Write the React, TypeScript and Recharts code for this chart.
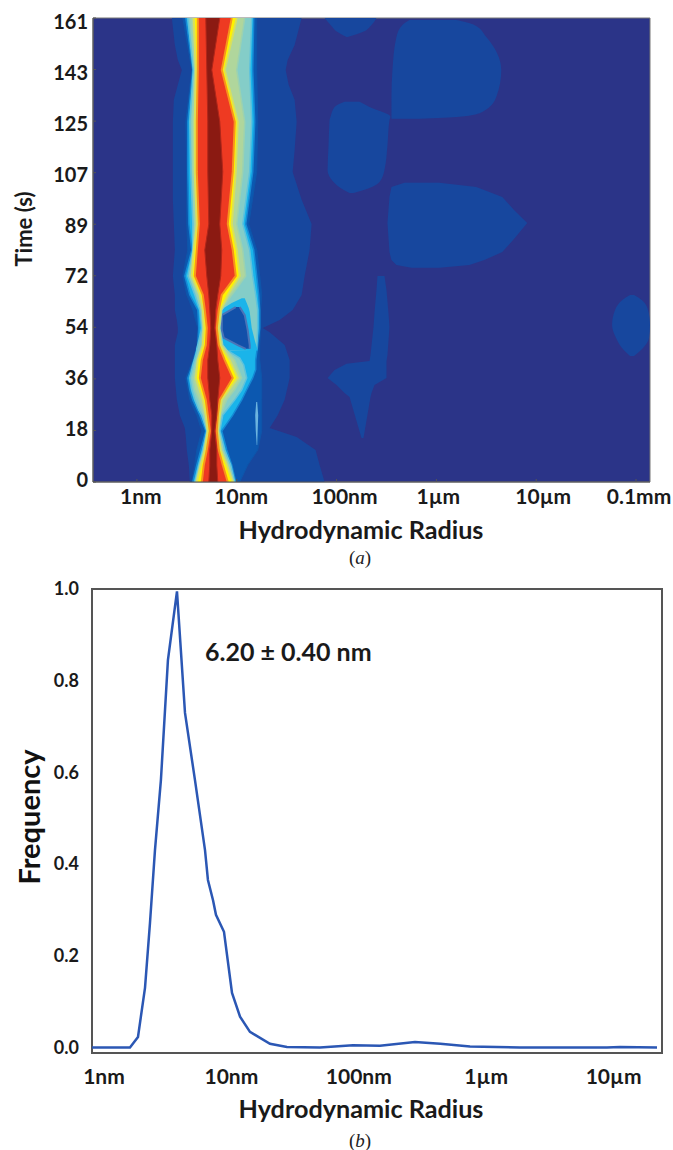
import { ComposedChart, LineChart, Area, Line, XAxis, YAxis, ReferenceArea } from "recharts";

// contour edges: [time s, left edge, right edge], edges in log10(radius / nm)
type Edge = [number, number, number];

const bandOuter: Edge[] = [
  [161, 0.35, 1.65], [151.6, 0.38, 1.58], [146.4, 0.41, 1.51], [143, 0.45, 1.49], [137.8, 0.41, 1.52],
  [132.6, 0.37, 1.58], [125, 0.36, 1.6], [115.2, 0.36, 1.58], [107.6, 0.36, 1.56], [97.9, 0.36, 1.65],
  [89.5, 0.37, 1.75], [80.5, 0.38, 1.73], [71.5, 0.36, 1.68], [64.9, 0.38, 1.65], [59.7, 0.38, 1.56],
  [56.2, 0.4, 1.43], [53.4, 0.41, 1.26], [52, 0.41, 1.33], [47.5, 0.38, 1.48], [42.3, 0.38, 1.53],
  [36.1, 0.38, 1.53], [28.5, 0.4, 1.48], [23.2, 0.43, 1.41], [18.7, 0.48, 1.33], [15.6, 0.49, 1.6],
  [11.1, 0.5, 1.79], [5.9, 0.52, 1.83], [0, 0.53, 1.88],
];
const bandMid: Edge[] = [
  [161, 0.46, 1.2], [143, 0.55, 1.2], [125, 0.49, 1.21], [107.6, 0.5, 1.2], [89.5, 0.5, 1.12],
  [80.5, 0.51, 1.2], [71.5, 0.46, 1.23], [64.9, 0.5, 1.25], [59.7, 0.56, 1.24], [53.4, 0.61, 1.24],
  [47.5, 0.6, 1.23], [42.3, 0.56, 1.23], [36.1, 0.49, 1.25], [28.5, 0.53, 1.25], [23.2, 0.6, 1.25],
  [17.7, 0.65, 1.25], [11.1, 0.6, 1.21], [5.9, 0.58, 1.11], [0, 0.55, 1.03],
];
const bandCyan: Edge[] = [
  [161, 0.49, 1.17], [143, 0.56, 1.16], [125, 0.51, 1.18], [107.6, 0.51, 1.16], [89.5, 0.52, 1.09],
  [80.5, 0.55, 1.17], [71.5, 0.48, 1.2], [64.9, 0.53, 1.22], [59.7, 0.61, 1.23], [53.4, 0.62, 1.23],
  [47.5, 0.61, 1.21], [42.3, 0.57, 1.19], [39, 0.54, 1.19], [36.1, 0.51, 1.16], [32, 0.53, 1.1],
  [28.5, 0.56, 1.05], [23.2, 0.63, 0.96], [17.7, 0.69, 0.85], [11.1, 0.64, 0.9], [5.9, 0.6, 0.95], [0, 0.56, 0.99],
];
const bandPale: Edge[] = [
  [161, 0.51, 1.15], [143, 0.565, 1.13], [125, 0.53, 1.15], [107.6, 0.54, 1.13], [89.5, 0.56, 1.06],
  [80.5, 0.56, 1.13], [71.5, 0.51, 1.16], [64.9, 0.58, 1.19], [59.7, 0.63, 1.21], [53.4, 0.65, 1.21],
  [46.2, 0.6, 1.2], [45.6, 0.6, 0.91], [43, 0.58, 1.03], [40.6, 0.56, 1.07], [36.1, 0.53, 1.1],
  [32, 0.55, 1.05], [28.5, 0.58, 0.98], [25, 0.62, 0.9], [23.2, 0.65, 0.86], [17.7, 0.7, 0.83],
  [11.1, 0.66, 0.88], [5.9, 0.62, 0.94], [0, 0.58, 0.98],
];
const bandGreen: Edge[] = [
  [161, 0.54, 1.08], [143, 0.58, 1], [125, 0.555, 1.08], [107.6, 0.56, 1.06], [89.5, 0.58, 1],
  [80.5, 0.565, 1.06], [71.5, 0.53, 1.09], [64.9, 0.605, 0.95], [59.7, 0.645, 0.85], [53.4, 0.66, 0.83],
  [47.5, 0.65, 0.86], [42.3, 0.6, 0.98], [36.1, 0.56, 1.05], [32, 0.58, 0.98], [28.5, 0.62, 0.9],
  [23.2, 0.67, 0.84], [17.7, 0.705, 0.82], [11.1, 0.67, 0.86], [5.9, 0.63, 0.92], [0, 0.59, 0.97],
];
const bandYellow: Edge[] = [
  [161, 0.57, 1], [143, 0.59, 0.88], [125, 0.58, 1.01], [107.6, 0.58, 0.99], [89.5, 0.6, 0.95],
  [80.5, 0.57, 1], [71.5, 0.55, 1.03], [64.9, 0.63, 0.91], [59.7, 0.66, 0.84], [53.4, 0.67, 0.82],
  [47.5, 0.66, 0.84], [42.3, 0.61, 0.93], [36.1, 0.59, 1.01], [28.5, 0.66, 0.85], [23.2, 0.69, 0.83],
  [17.7, 0.71, 0.81], [11.1, 0.68, 0.84], [5.9, 0.64, 0.9], [0, 0.6, 0.96],
];
const bandRed: Edge[] = [
  [161, 0.61, 0.95], [143, 0.61, 0.85], [125, 0.6, 0.98], [107.6, 0.6, 0.96], [89.5, 0.62, 0.91],
  [80.5, 0.6, 0.96], [71.5, 0.58, 0.99], [64.9, 0.66, 0.85], [59.7, 0.68, 0.82], [53.4, 0.7, 0.8],
  [47.5, 0.69, 0.82], [42.3, 0.65, 0.88], [36.1, 0.63, 0.96], [28.5, 0.69, 0.83], [23.2, 0.71, 0.81],
  [17.7, 0.73, 0.8], [11.1, 0.7, 0.82], [5.9, 0.67, 0.86], [0, 0.65, 0.91],
];
const bandDark: Edge[] = [
  [161, 0.69, 0.83], [143, 0.7, 0.75], [125, 0.71, 0.83], [107.6, 0.71, 0.86], [89.5, 0.72, 0.83],
  [80.5, 0.68, 0.85], [71.5, 0.7, 0.84], [64.9, 0.72, 0.81], [59.7, 0.73, 0.79], [53.4, 0.74, 0.78],
  [47.5, 0.73, 0.8], [42.3, 0.71, 0.81], [36.1, 0.71, 0.83], [28.5, 0.73, 0.81], [23.2, 0.75, 0.8],
  [17.7, 0.75, 0.78], [11.1, 0.73, 0.8], [5.9, 0.73, 0.8], [0, 0.72, 0.81],
];
const holeCyan: Edge[] = [
  [63.8, 1.05, 1.08], [62.1, 0.95, 1.1], [60.4, 0.87, 1.12], [59, 0.84, 1.13],
  [53.4, 0.83, 1.15], [49.3, 0.84, 1.18], [45.6, 0.87, 1.21],
];
const holeInner: Edge[] = [
  [60.7, 0.99, 1.03], [57.9, 0.85, 1.08], [52.7, 0.85, 1.11], [50, 0.87, 1.12], [47.5, 1.01, 1.13], [46.2, 1.09, 1.13],
];
const spike: Edge[] = [[27.8, 1.195, 1.205], [23.2, 1.185, 1.215], [18, 1.19, 1.21], [12.8, 1.2, 1.205]];

const blobTop: Edge[] = [[161, 1.88, 2.4], [158.6, 1.94, 2.35], [156.1, 2.01, 2.26], [154.4, 2.1, 2.11]];
const blobUpper: Edge[] = [
  [160.3, 2.73, 3.2], [158.6, 2.66, 3.38], [154.4, 2.6, 3.5], [143, 2.56, 3.65],
  [133.6, 2.55, 3.6], [128.4, 2.55, 3.46], [126.7, 2.55, 3.23], [126, 2.55, 2.83],
];
const blobSmall: Edge[] = [
  [131.9, 2.08, 2.23], [130.1, 1.98, 2.33], [126.7, 1.94, 2.54], [125.6, 1.93, 2.53], [116.9, 1.92, 2.51],
  [108.3, 1.91, 2.48], [104.1, 1.97, 2.43], [102, 2.04, 2.33], [100.3, 2.13, 2.17],
];
const blobLower: Edge[] = [
  [103.8, 2.68, 3.03], [102.4, 2.55, 3.4], [98.9, 2.53, 3.66], [94.3, 2.52, 3.78], [89.9, 2.51, 3.91],
  [84.8, 2.52, 3.79], [79.8, 2.53, 3.66], [77, 2.55, 3.48], [75.3, 2.6, 3.33], [74.3, 2.75, 3.03],
];
const blobStalk: Edge[] = [
  [71.5, 2.41, 2.48], [66.6, 2.4, 2.5], [58.7, 2.38, 2.52], [53.8, 2.37, 2.53], [44.1, 2.34, 2.51],
  [42, 2.33, 2.5], [41, 2.1, 2.5], [38.9, 1.98, 2.5], [36.1, 1.91, 2.5], [33.7, 2, 2.38],
  [30.9, 2.08, 2.35], [29.5, 2.13, 2.34], [15.3, 2.25, 2.27],
];
const blobFar: Edge[] = [
  [64.9, 4.94, 4.98], [63.1, 4.86, 5.06], [59.7, 4.79, 5.12], [54.5, 4.76, 5.14],
  [50, 4.8, 5.13], [46.5, 4.86, 5.07], [43.7, 4.94, 4.98],
];

const timeTicks = [0, 17.89, 35.78, 53.67, 71.56, 89.44, 107.33, 125.22, 143.11, 161];
const radiusTicksA = [0, 1, 2, 3, 4, 5];
const radiusLabelsA = ["1nm", "10nm", "100nm", "1µm", "10µm", "0.1mm"];
const labelShiftA = [4, 4.5, 8, 2, 7, 3];

const radiusB = [
  -0.094, 0.204, 0.267, 0.322, 0.361, 0.4, 0.447, 0.502, 0.573, 0.636, 0.714, 0.793, 0.816, 0.856, 0.879, 0.942,
  1.005, 1.068, 1.146, 1.303, 1.436, 1.695, 1.954, 2.166, 2.441, 2.64, 2.873, 3.265, 3.948, 4.05, 4.341,
];
const frequencyB = [
  0.001, 0.001, 0.024, 0.131, 0.272, 0.43, 0.584, 0.845, 0.995, 0.73, 0.584, 0.431, 0.366, 0.322, 0.29, 0.253,
  0.12, 0.068, 0.035, 0.009, 0.002, 0.001, 0.006, 0.005, 0.013, 0.009, 0.003, 0.001, 0.001, 0.002, 0.001,
];
const radiusTicksB = [0, 1, 2, 3, 4];
const radiusLabelsB = ["1nm", "10nm", "100nm", "1µm", "10µm"];
const frequencyTicks = [0, 0.2, 0.4, 0.6, 0.8, 1];

const FONT = "Lato, 'Open Sans', sans-serif";
const INK = "#1a1a1a";
const TOP_B = 560;

const rows = (edges: Edge[]) => edges.map(([t, l, r]) => ({ t, range: [l, r] }));

const layers: { data: Edge[]; fill: string; stroke?: string; w?: number; curve?: "linear" | "monotone" }[] = [
  { data: blobTop, fill: "#17479e", curve: "monotone" },
  { data: blobUpper, fill: "#17479e", curve: "monotone" },
  { data: blobSmall, fill: "#17479e", curve: "monotone" },
  { data: blobLower, fill: "#17479e" },
  { data: blobStalk, fill: "#17479e" },
  { data: blobFar, fill: "#17479e", curve: "monotone" },
  { data: bandOuter, fill: "#17479e" },
  { data: bandMid, fill: "#0c58b0", stroke: "#0f55aa", w: 1 },
  { data: spike, fill: "#6cb4e0" },
  { data: bandCyan, fill: "#1ab4ea", stroke: "#1489d4", w: 1.5 },
  { data: bandPale, fill: "#84cdc8", stroke: "#60c3dc", w: 1.5 },
  { data: holeCyan, fill: "#1ab4ea" },
  { data: holeInner, fill: "#1250a9", stroke: "#4a74b8", w: 2 },
  { data: bandGreen, fill: "#b0d69c", stroke: "#9cd2b0", w: 1.5 },
  { data: bandYellow, fill: "#fff200", stroke: "#d8e05c", w: 2 },
  { data: bandRed, fill: "#ee3a22", stroke: "#f7941d", w: 2 },
  { data: bandDark, fill: "#8b1a12", stroke: "#b0261a", w: 1 },
];

function TimeTick({ payload }: any) {
  const c = payload.coordinate;
  return (
    <text x={88} y={c + (482 - c) * 0.013 - 2} dy={7} textAnchor="end" fontFamily={FONT} fontWeight={700} fontSize={20} fill={INK}>
      {Math.round(payload.value)}
    </text>
  );
}

function RadiusTickA({ payload, index }: any) {
  return (
    <text x={payload.coordinate + labelShiftA[index]} y={504} textAnchor="middle" fontFamily={FONT} fontWeight={700} fontSize={21} fill={INK}>
      {radiusLabelsA[index]}
    </text>
  );
}

function RadiusTickB({ payload, index }: any) {
  return (
    <text x={payload.coordinate} y={1084 - TOP_B} textAnchor="middle" fontFamily={FONT} fontWeight={700} fontSize={21} fill={INK}>
      {radiusLabelsB[index]}
    </text>
  );
}

function FrequencyTick({ payload }: any) {
  return (
    <text x={79} y={payload.coordinate + 6} textAnchor="end" fontFamily={FONT} fontWeight={700} fontSize={18} fill={INK}>
      {payload.value.toFixed(1)}
    </text>
  );
}

function Caption({ letter, top }: { letter: string; top: number }) {
  return (
    <div style={{ position: "absolute", left: 0, width: 720, top, lineHeight: "16px", textAlign: "center", fontFamily: "'Liberation Serif', serif", fontSize: 19, color: "#222" }}>
      (<i>{letter}</i>)
    </div>
  );
}

export default function App() {
  const lineData = radiusB.map((r, i) => ({ r, f: frequencyB[i] }));
  return (
    <div style={{ position: "absolute", left: 0, top: 0, width: 673, height: 1150, background: "#fff", overflow: "hidden" }}>
      <div style={{ position: "absolute", left: 0, top: 0 }}>
        <ComposedChart width={673} height={575} layout="vertical" margin={{ top: 18, right: 23, bottom: 0, left: 0 }}>
          <XAxis
            type="number"
            dataKey="range"
            domain={[-0.44, 5.14]}
            ticks={radiusTicksA}
            height={93}
            allowDataOverflow
            stroke="#555"
            tickSize={-3}
            tick={<RadiusTickA />}
            interval={0}
          />
          <YAxis
            type="number"
            dataKey="t"
            domain={[0, 161]}
            ticks={timeTicks}
            width={93}
            reversed
            allowDataOverflow
            stroke="#555"
            tickSize={-3}
            tick={<TimeTick />}
            interval={0}
          />
          <ReferenceArea x1={-0.44} x2={5.14} y1={0} y2={161} fill="#2b3488" fillOpacity={1} stroke="#777" />
          {layers.map((layer, i) => (
            <Area
              key={i}
              data={rows(layer.data)}
              dataKey="range"
              type={layer.curve ?? "linear"}
              fill={layer.fill}
              fillOpacity={1}
              stroke={layer.stroke ?? "none"}
              strokeWidth={layer.w ?? 0}
              dot={false}
              activeDot={false}
              isAnimationActive={false}
            />
          ))}
          <text x={361} y={539} textAnchor="middle" fontFamily={FONT} fontWeight={700} fontSize={25.2} fill={INK}>
            Hydrodynamic Radius
          </text>
          <text transform="translate(32 229) rotate(-90)" textAnchor="middle" fontFamily={FONT} fontWeight={700} fontSize={22} fill={INK}>
            Time (s)
          </text>
        </ComposedChart>
      </div>
      <Caption letter="a" top={550} />
      <div style={{ position: "absolute", left: 0, top: TOP_B }}>
        <LineChart width={673} height={570} data={lineData} margin={{ top: 29, right: 11, bottom: 0, left: 0 }}>
          <XAxis
            type="number"
            dataKey="r"
            domain={[-0.094, 4.38]}
            ticks={radiusTicksB}
            height={77}
            axisLine={false}
            tickLine={false}
            tick={<RadiusTickB />}
            interval={0}
          />
          <YAxis
            type="number"
            domain={[-0.011, 1]}
            ticks={frequencyTicks}
            width={92}
            axisLine={false}
            tickLine={false}
            tick={<FrequencyTick />}
            interval={0}
          />
          <ReferenceArea x1={-0.094} x2={4.38} y1={-0.011} y2={1} fill="none" stroke="#555" strokeWidth={2} />
          <Line dataKey="f" type="linear" stroke="#2b57b4" strokeWidth={2.5} dot={false} activeDot={false} isAnimationActive={false} />
          <text x={205} y={1 + 660 - TOP_B} fontFamily={FONT} fontWeight={700} fontSize={25} fill={INK}>
            6.20 ± 0.40 nm
          </text>
          <text x={361} y={1118 - TOP_B} textAnchor="middle" fontFamily={FONT} fontWeight={700} fontSize={25.2} fill={INK}>
            Hydrodynamic Radius
          </text>
          <text transform={`translate(40 ${817 - TOP_B}) rotate(-90)`} textAnchor="middle" fontFamily={FONT} fontWeight={700} fontSize={29} fill="#111">
            Frequency
          </text>
        </LineChart>
      </div>
      <Caption letter="b" top={1133} />
    </div>
  );
}
